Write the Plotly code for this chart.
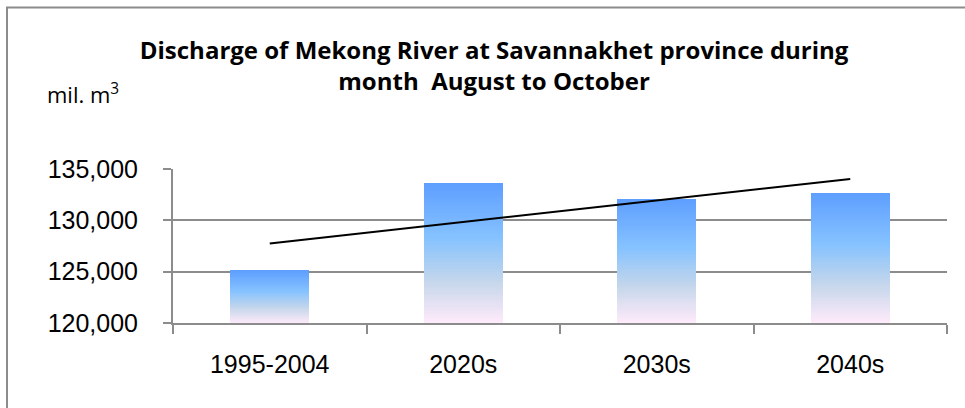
import numpy as np
import plotly.graph_objects as go

# Discharge of the Mekong River at Savannakhet, August-October (mil. m3)
periods = ["1995-2004", "2020s", "2030s", "2040s"]
discharge = [125160, 133640, 132080, 132660]
y_ticks = [120000, 125000, 130000, 135000]
y_tick_labels = ["120,000", "125,000", "130,000", "135,000"]

AXIS_BASE = 120000
GRAY = "#8c8c8c"

# "Daybreak" style vertical gradient, bottom -> top
grad_stops = [(0.0, (0xFF, 0xEB, 0xFA)), (0.30, (0xC4, 0xD6, 0xEB)),
              (0.61, (0x85, 0xC2, 0xFF)), (1.0, (0x5E, 0x9E, 0xFF))]


def grad_color(t):
    for (t0, c0), (t1, c1) in zip(grad_stops[:-1], grad_stops[1:]):
        if t <= t1:
            f = (t - t0) / (t1 - t0) if t1 > t0 else 0
            r, g, b = (round(a + (b_ - a) * f) for a, b_ in zip(c0, c1))
            return f"rgb({r},{g},{b})"
    r, g, b = grad_stops[-1][1]
    return f"rgb({r},{g},{b})"


fig = go.Figure()

# each bar is built from thin stacked slices so it carries its own gradient
n_slices = 60
vals = np.array(discharge, dtype=float)
heights = vals - AXIS_BASE
for k in range(n_slices):
    fig.add_trace(go.Bar(
        x=periods,
        y=heights / n_slices,
        base=AXIS_BASE + heights * k / n_slices,
        width=0.41,
        marker=dict(color=grad_color((k + 0.5) / n_slices), line=dict(width=0)),
        showlegend=False,
        hoverinfo="skip",
    ))

# linear trend through the four periods
xi = np.arange(len(periods))
slope, intercept = np.polyfit(xi, vals, 1)
trend = intercept + slope * xi
fig.add_trace(go.Scatter(
    x=periods, y=trend, mode="lines",
    line=dict(color="black", width=2),
    showlegend=False, hoverinfo="skip",
))

fig.update_layout(
    width=965, height=408,
    margin=dict(l=173, r=18, t=169, b=85),
    paper_bgcolor="white", plot_bgcolor="white",
    barmode="overlay",
    bargap=0,
    title=dict(
        text="Discharge of Mekong River at Savannakhet province during<br>month  August to October",
        x=0.512, xref="container", xanchor="center",
        y=0.856, yref="container", yanchor="middle",
        font=dict(family="Open Sans", size=24, color="black", weight="bold", lineposition="none"),
    ),
    xaxis=dict(
        type="category",
        showline=True, linecolor=GRAY, linewidth=2,
        ticks="outside", tickson="boundaries", ticklen=9, tickwidth=2, tickcolor=GRAY,
        ticklabelstandoff=18,
        showgrid=False,
        tickfont=dict(family="Liberation Sans", size=25, color="black"),
    ),
    yaxis=dict(
        range=[AXIS_BASE, 135000],
        tickvals=y_ticks, ticktext=y_tick_labels,
        showline=True, linecolor=GRAY, linewidth=2,
        ticks="outside", ticklen=8, tickwidth=2, tickcolor=GRAY,
        ticklabelstandoff=20,
        showgrid=True, gridcolor=GRAY, gridwidth=2,
        zeroline=False,
        tickfont=dict(family="Liberation Sans", size=25, color="black"),
    ),
    annotations=[dict(
        text="mil. m<sup>3</sup>",
        xref="paper", yref="paper",
        x=(45 - 173) / 774, y=(323 - 94) / 154,
        xanchor="left", yanchor="middle",
        showarrow=False,
        font=dict(family="Open Sans", size=22, color="black"),
    )],
    shapes=[dict(
        type="rect", xref="paper", yref="paper",
        x0=(7 - 173) / 774, x1=1.2,
        y0=-1.0, y1=(323 - 7.5) / 154,
        line=dict(color=GRAY, width=2),
        layer="below",
    )],
)

fig.write_html("out.html")
